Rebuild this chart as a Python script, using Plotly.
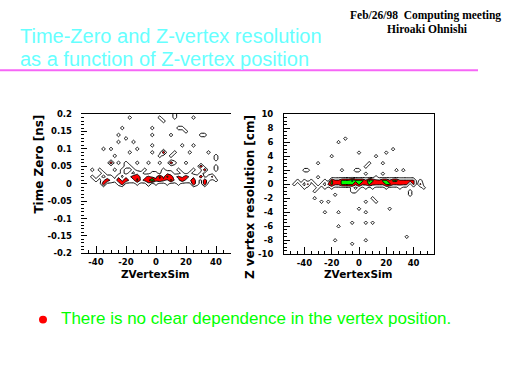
import numpy as np
import plotly.graph_objects as go

# ---------------- data (bin centres and counts) -------------
# Left panel: Time Zero [ns] vs ZVertexSim, x bin 2.5, y bin 0.01
tz_x = [-17.5, 2.5, 12.5, 12.5, 25, 5, -22.5, -2.5, 15, 17.5, 20, -25, -20, -2.5, 10, 30, 32.5,
        -25, -15, -2.5, 17.5, 25, -35, -30, -27.5, -17.5, -12.5, -2.5, 5, 2.5, 12.5, 10, 22.5, 35, 40, 40,
        -30, -25, -20, -17.5, -20, -12.5, -5, 2.5, 10, 12.5, 20, 30, 32.5, 40, 40,
        -42.5, -37.5, -27.5, -22.5, -15, -7.5, 5, 15, 25,
        -35, -22.5, -17.5, -12.5, -10, -2.5, 0, 5, 7.5, 10, 17.5, 22.5, 30,
        -42.5, -37.5, -32.5, -30, -25, -20, -17.5, -15, -12.5, -10, -7.5, -5, -2.5, 0, 2.5, 5, 7.5, 10,
        12.5, 15, 17.5, 20, 22.5, 25, 27.5, 30, 35, 37.5,
        -40, -35, -32.5, -30, -27.5, -25, -22.5, -20, -17.5, -15, -12.5, -10, -7.5, -5, -2.5, 0, 2.5, 5,
        7.5, 10, 12.5, 15, 17.5, 20, 22.5, 25, 27.5, 32.5, 35, 40,
        -35, -25, -22.5, -12.5, -5, 0, 7.5, 15, 25, 27.5, 32.5]
tz_y = [0.19, 0.19, 0.20, 0.19, 0.19, 0.18, 0.16, 0.16, 0.16, 0.16, 0.15, 0.14, 0.13, 0.14, 0.14, 0.14, 0.14,
        0.12, 0.12, 0.11, 0.11, 0.11, 0.10, 0.10, 0.08, 0.09, 0.10, 0.09, 0.09, 0.08, 0.09, 0.08, 0.09, 0.09, 0.08, 0.07,
        0.06, 0.06, 0.06, 0.05, 0.05, 0.06, 0.06, 0.06, 0.06, 0.06, 0.06, 0.05, 0.04, 0.05, 0.04,
        0.04, 0.04, 0.04, 0.04, 0.04, 0.04, 0.04, 0.04, 0.04,
        0.03, 0.03, 0.03, 0.03, 0.03, 0.03, 0.03, 0.03, 0.03, 0.03, 0.03, 0.03, 0.03,
        0.02, 0.02, 0.02, 0.02, 0.02, 0.02, 0.02, 0.02, 0.02, 0.02, 0.02, 0.02, 0.02, 0.02, 0.02, 0.02, 0.02, 0.02,
        0.02, 0.02, 0.02, 0.02, 0.02, 0.02, 0.02, 0.02, 0.02, 0.02,
        0.01, 0.01, 0.01, 0.01, 0.01, 0.01, 0.01, 0.01, 0.01, 0.01, 0.01, 0.01, 0.01, 0.01, 0.01, 0.01, 0.01, 0.01,
        0.01, 0.01, 0.01, 0.01, 0.01, 0.01, 0.01, 0.01, 0.01, 0.01, 0.01, 0.01,
        0.0, 0.0, 0.0, 0.0, 0.0, 0.0, 0.0, 0.0, 0.0, 0.0, 0.0]
tz_n = [1, 1, 1, 1, 1, 1, 1, 1, 1, 1, 1, 1, 1, 1, 1, 1, 1,
        1, 1, 1, 1, 1, 1, 1, 1, 1, 1, 1, 4, 1, 1, 1, 1, 1, 1, 1,
        4, 1, 1, 1, 1, 1, 1, 1, 4, 1, 1, 4, 4, 1, 1,
        1, 1, 1, 1, 1, 1, 1, 1, 1,
        1, 1, 1, 2, 1, 1, 1, 2, 2, 2, 1, 1, 1,
        1, 1, 1, 1, 2, 2, 2, 4, 4, 2, 2, 3, 2, 2, 5, 2, 5, 3,
        2, 3, 2, 4, 2, 2, 1, 4, 1, 3,
        1, 2, 4, 2, 1, 4, 2, 4, 2, 2, 5, 2, 3, 4, 7, 3, 4, 3,
        2, 5, 2, 2, 4, 2, 2, 4, 1, 4, 1, 1,
        4, 1, 4, 1, 2, 1, 1, 1, 4, 1, 4]

# Right panel: Z vertex resolution [cm] vs ZVertexSim, x bin 2.5, y bin 0.5
zr_x = [-10, -15, 0, 25, 20, -20, 12.5, -30, 7.5, 17.5, -40, -37.5, -12.5, -2.5, 0, 5, 27.5, 32.5,
        -30, 17.5, 5, 12.5,
        -45, -40, -35, -25, -20, -17.5, -15, -12.5, -10, -7.5, -5, -2.5, 0, 2.5, 5, 7.5, 10, 12.5, 15,
        17.5, 20, 22.5, 25, 27.5, 30, 32.5, 35, 37.5, 40, 45,
        -47.5, -42.5, -37.5, -32.5, -27.5, -22.5, -20, -17.5, -15, -12.5, -10, -7.5, -5, -2.5, 0, 2.5,
        5, 7.5, 10, 12.5, 15, 17.5, 20, 22.5, 25, 27.5, 30, 32.5, 35, 40, 45,
        -40, -30, -25, -20, -5, 0, 5, 10, 20, 30, 47.5,
        -32.5, -32.5, -27.5, -22.5, -17.5, -5, -2.5, 10, 12.5, 5, 37.5, 37.5, 0, 22.5, -15, -25, 5,
        -15, -5, 5, 10, 35, -17.5, -5, 5]
zr_y = [6.5, 6.0, 4.5, 5.0, 4.5, 4.0, 4.0, 3.0, 3.0, 3.0, 2.0, 2.0, 2.0, 2.0, 2.0, 2.5, 2.0, 2.0,
        1.0, 1.5, 1.5, 1.0,
        0.5, 0.5, 0.5, 0.5, 0.5, 0.5, 0.5, 0.5, 0.5, 0.5, 0.5, 0.5, 0.5, 0.5, 0.5, 0.5, 0.5, 0.5, 0.5,
        0.5, 0.5, 0.5, 0.5, 0.5, 0.5, 0.5, 0.5, 0.5, 0.5, 0.5,
        0.0, 0.0, 0.0, 0.0, 0.0, 0.0, 0.0, 0.0, 0.0, 0.0, 0.0, 0.0, 0.0, 0.0, 0.0, 0.0,
        0.0, 0.0, 0.0, 0.0, 0.0, 0.0, 0.0, 0.0, 0.0, 0.0, 0.0, 0.0, 0.0, 0.0, 0.0,
        -0.5, -0.5, -0.5, -0.5, -0.5, -0.5, -0.5, -0.5, -0.5, -0.5, -0.5,
        -1.0, -2.0, -2.5, -2.5, -1.5, -1.0, -1.0, -2.0, -2.5, -2.5, -1.0, -1.5, -3.5, -3.5, -4.0, -4.0, -4.0,
        -6.0, -5.5, -5.5, -5.5, -7.5, -8.0, -8.5, -8.0]
zr_n = [1, 1, 1, 1, 1, 1, 1, 1, 1, 1, 1, 1, 1, 1, 1, 1, 1, 1,
        1, 1, 1, 1,
        1, 1, 1, 1, 5, 3, 3, 5, 5, 5, 7, 5, 5, 5, 3, 7, 5, 3, 3,
        5, 5, 3, 5, 5, 3, 3, 3, 3, 3, 1,
        1, 1, 3, 1, 1, 3, 5, 3, 3, 5, 5, 5, 5, 3, 5, 3,
        3, 5, 3, 3, 3, 3, 5, 5, 3, 3, 3, 3, 3, 3, 3,
        1, 1, 1, 1, 1, 1, 1, 1, 1, 1, 1,
        1, 1, 1, 1, 1, 1, 1, 1, 1, 1, 1, 1, 1, 1, 1, 1, 1,
        1, 1, 1, 1, 1, 1, 1, 1]

# axis tick labels
tz_ticks = [0.2, 0.15, 0.1, 0.05, 0, -0.05, -0.1, -0.15, -0.2]
tz_ticktext = ["0.2", "0.15", "0.1", "0.05", "0", "-0.05", "-0.1", "-0.15", "-0.2"]
zr_ticks = [10, 8, 6, 4, 2, 0, -2, -4, -6, -8, -10]
zr_ticktext = ["10", "8", "6", "4", "2", "0", "-2", "-4", "-6", "-8", "-10"]
zv_ticks = [-40, -20, 0, 20, 40]
zv_ticktext = ["-40", "-20", "0", "20", "40"]

title_lines = ["Time-Zero and Z-vertex resolution", "as a function of Z-vertex position"]
header_lines = ["Feb/26/98\u00a0\u00a0Computing meeting", "Hiroaki Ohnishi"]
bullet_text = "There is no clear dependence in the vertex position."


def make_grid(xs, ys, ns, x0, x1, dx, y0, y1, dy):
    gx = np.round(np.arange(x0, x1 + dx / 2, dx), 6)
    gy = np.round(np.arange(y0, y1 + dy / 2, dy), 6)
    z = np.zeros((len(gy), len(gx)))
    for x, y, n in zip(xs, ys, ns):
        i = int(round((y - y0) / dy))
        j = int(round((x - x0) / dx))
        z[i, j] += n
    return gx, gy, z


lx, ly, lz = make_grid(tz_x, tz_y, tz_n, -50, 50, 2.5, -0.2, 0.2, 0.01)
rx, ry, rz = make_grid(zr_x, zr_y, zr_n, -55, 55, 2.5, -10, 10, 0.5)

cscale = [[0, "white"], [0.3, "white"], [0.3, "#ff0000"], [0.55, "#ff0000"],
          [0.55, "#00ff00"], [0.8, "#00ff00"], [0.8, "#0000ff"], [1, "#0000ff"]]
contours = dict(start=0.5, end=6.5, size=2, coloring="fill")

fig = go.Figure()
fig.add_trace(go.Contour(x=lx, y=ly, z=lz, autocontour=False, contours=contours,
                         colorscale=cscale, showscale=False, hoverinfo="skip",
                         line=dict(color="black", width=1, smoothing=0),
                         xaxis="x", yaxis="y"))
fig.add_trace(go.Contour(x=rx, y=ry, z=rz, autocontour=False, contours=contours,
                         colorscale=cscale, showscale=False, hoverinfo="skip",
                         line=dict(color="black", width=1, smoothing=0),
                         xaxis="x2", yaxis="y2"))

tickfont = dict(family="DejaVu Sans", size=8.5, color="black", weight="bold")
W, H = 512, 384


def px(x):
    return x / W


def py(y):
    return 1 - y / H


common_x = dict(tickvals=zv_ticks, ticktext=zv_ticktext, ticks="inside", ticklen=7,
                tickcolor="black", tickwidth=1, showline=True, linecolor="black",
                linewidth=1, mirror=True, showgrid=False, zeroline=False,
                tickfont=tickfont, minor=dict(dtick=5, tick0=0, ticks="inside", ticklen=3,
                                               tickcolor="black", showgrid=False))

fig.update_layout(
    width=W, height=H, margin=dict(l=0, r=0, t=0, b=0),
    paper_bgcolor="white", plot_bgcolor="white", showlegend=False,
    xaxis=dict(domain=[px(81), px(231)], range=[-50, 50], anchor="y", **common_x),
    yaxis=dict(domain=[py(255), py(112)], range=[-0.2, 0.2], anchor="x",
               tickvals=tz_ticks, ticktext=tz_ticktext, ticks="inside", ticklen=6,
               tickcolor="black", showline=False, showgrid=False, zeroline=False,
               tickfont=tickfont, ticklabelstandoff=8,
               minor=dict(dtick=0.01, tick0=0, ticks="inside", ticklen=3,
                          tickcolor="black", showgrid=False)),
    xaxis2=dict(domain=[px(284), px(434)], range=[-55, 55], anchor="y2", **common_x),
    yaxis2=dict(domain=[py(256), py(112)], range=[-10, 10], anchor="x2",
                tickvals=zr_ticks, ticktext=zr_ticktext, ticks="inside", ticklen=6,
                tickcolor="black", showline=True, linecolor="black", linewidth=1,
                mirror=True, showgrid=False, zeroline=False,
                tickfont=tickfont, ticklabelstandoff=8,
                minor=dict(dtick=0.5, tick0=0, ticks="inside", ticklen=3,
                           tickcolor="black", showgrid=False)),
)

ann = []
# slide title
ann.append(dict(text=title_lines[0], x=px(18), y=py(32), xanchor="left", yanchor="middle",
                font=dict(family="Liberation Sans", size=20, color="#66ffff")))
ann.append(dict(text=title_lines[1], x=px(18), y=py(55), xanchor="left", yanchor="middle",
                font=dict(family="Liberation Sans", size=20, color="#66ffff")))
# header
ann.append(dict(text=header_lines[0], x=px(503), y=py(11), xanchor="right", yanchor="middle",
                font=dict(family="Liberation Serif", size=11.5, color="black", weight="bold")))
ann.append(dict(text=header_lines[1], x=px(427), y=py(25), xanchor="center", yanchor="middle",
                font=dict(family="Liberation Serif", size=11.5, color="black", weight="bold")))
# axis titles
axfont = dict(family="DejaVu Sans", size=12, color="black", weight="bold")
ann.append(dict(text="Time Zero [ns]", x=px(39), y=py(111), xanchor="center", yanchor="top",
                textangle=-90, font=axfont))
ann.append(dict(text="Z vertex resolution [cm]", x=px(250), y=py(111), xanchor="center",
                yanchor="top", textangle=-90, font=axfont))
axfont2 = dict(family="DejaVu Sans", size=10.5, color="black", weight="bold")
ann.append(dict(text="ZVertexSim", x=px(155), y=py(276), xanchor="center", yanchor="middle",
                font=axfont2))
ann.append(dict(text="ZVertexSim", x=px(358), y=py(276), xanchor="center", yanchor="middle",
                font=axfont2))
# bullet text
ann.append(dict(text=bullet_text, x=px(59), y=py(322), xanchor="left", yanchor="middle",
                font=dict(family="Liberation Sans", size=17, color="#00ff00")))
for a in ann:
    a.update(xref="paper", yref="paper", showarrow=False)
fig.update_layout(annotations=ann)

fig.update_layout(shapes=[
    dict(type="line", xref="paper", yref="paper", x0=0, x1=px(478), y0=py(67), y1=py(67),
         line=dict(color="#f666f6", width=2)),
    dict(type="circle", xref="paper", yref="paper", x0=px(39), x1=px(47), y0=py(327), y1=py(319),
         fillcolor="#ff0000", line=dict(color="#ff0000", width=0)),
])

fig.write_html("out.html", config={"displayModeBar": False},
               post_script="document.body.style.margin='0px';")
